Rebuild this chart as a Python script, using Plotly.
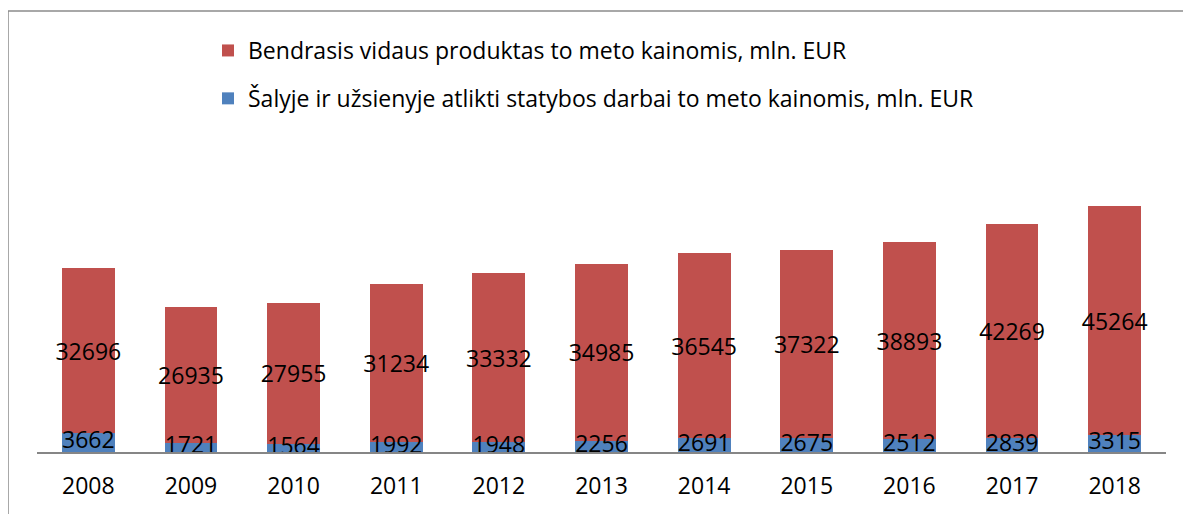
import plotly.graph_objects as go

years = ["2008", "2009", "2010", "2011", "2012", "2013", "2014", "2015", "2016", "2017", "2018"]
gdp = [32696, 26935, 27955, 31234, 33332, 34985, 36545, 37322, 38893, 42269, 45264]
construction = [3662, 1721, 1564, 1992, 1948, 2256, 2691, 2675, 2512, 2839, 3315]

name_gdp = "Bendrasis vidaus produktas to meto kainomis, mln. EUR"
name_con = "Šalyje ir užsienyje atlikti statybos darbai to meto kainomis, mln. EUR"

FONT = "Open Sans"
OFF = 8  # page body offset
W, H = 1191 - OFF, 514 - OFF
L, R, T, B = 29, 25, 191, 62
pw, ph = W - L - R, H - T - B

fig = go.Figure()
fig.add_trace(go.Bar(
    x=years, y=construction, name=name_con,
    marker=dict(color="#4F81BD", line=dict(width=0)),
    legendrank=2, legendgroup="b", hoverinfo="skip",
))
fig.add_trace(go.Bar(
    x=years, y=gdp, name=name_gdp,
    marker=dict(color="#C0504D", line=dict(width=0)),
    text=[str(v) for v in gdp], textposition="inside",
    insidetextanchor="middle", textangle=0,
    textfont=dict(family=FONT, size=23, color="black"),
    cliponaxis=False, legendrank=1, legendgroup="a",
))
# labels for the small blue segments, drawn on top of everything
fig.add_trace(go.Scatter(
    x=years, y=[v / 2 for v in construction], mode="text",
    text=[str(v) for v in construction], textposition="middle center",
    textfont=dict(family=FONT, size=23, color="black"),
    showlegend=False, cliponaxis=False, hoverinfo="skip",
))

def px_x(p):
    return (p - OFF - L) / pw

def px_y(p):
    return (H - B - (p - OFF)) / ph

fig.update_layout(
    width=W, height=H,
    margin=dict(l=L, r=R, t=T, b=B, pad=0),
    barmode="stack", bargap=0.485,
    plot_bgcolor="white", paper_bgcolor="white",
    font=dict(family=FONT, size=23, color="black"),
    uniformtext=dict(mode="show", minsize=23),
    showlegend=True,
    legend=dict(
        x=px_x(208), y=px_y(29), xanchor="left", yanchor="top",
        orientation="v", traceorder="grouped", tracegroupgap=15,
        font=dict(family=FONT, size=23, color="black"),
        bgcolor="rgba(0,0,0,0)",
    ),
    xaxis=dict(
        type="category", range=[-0.5, len(years) - 0.5], autorange=False,
        showline=True, linecolor="#868686", linewidth=1.5,
        showgrid=False, ticks="", ticklabelstandoff=13,
        tickfont=dict(family=FONT, size=23, color="black"),
    ),
    yaxis=dict(range=[0, 50000], visible=False, showgrid=False),
    shapes=[dict(
        type="rect", xref="paper", yref="paper",
        x0=px_x(8), x1=px_x(1210), y0=px_y(530), y1=px_y(11),
        line=dict(color="#8C8C8C", width=1.5), fillcolor="rgba(0,0,0,0)",
        layer="below",
    )],
)

fig.write_html("out.html")
